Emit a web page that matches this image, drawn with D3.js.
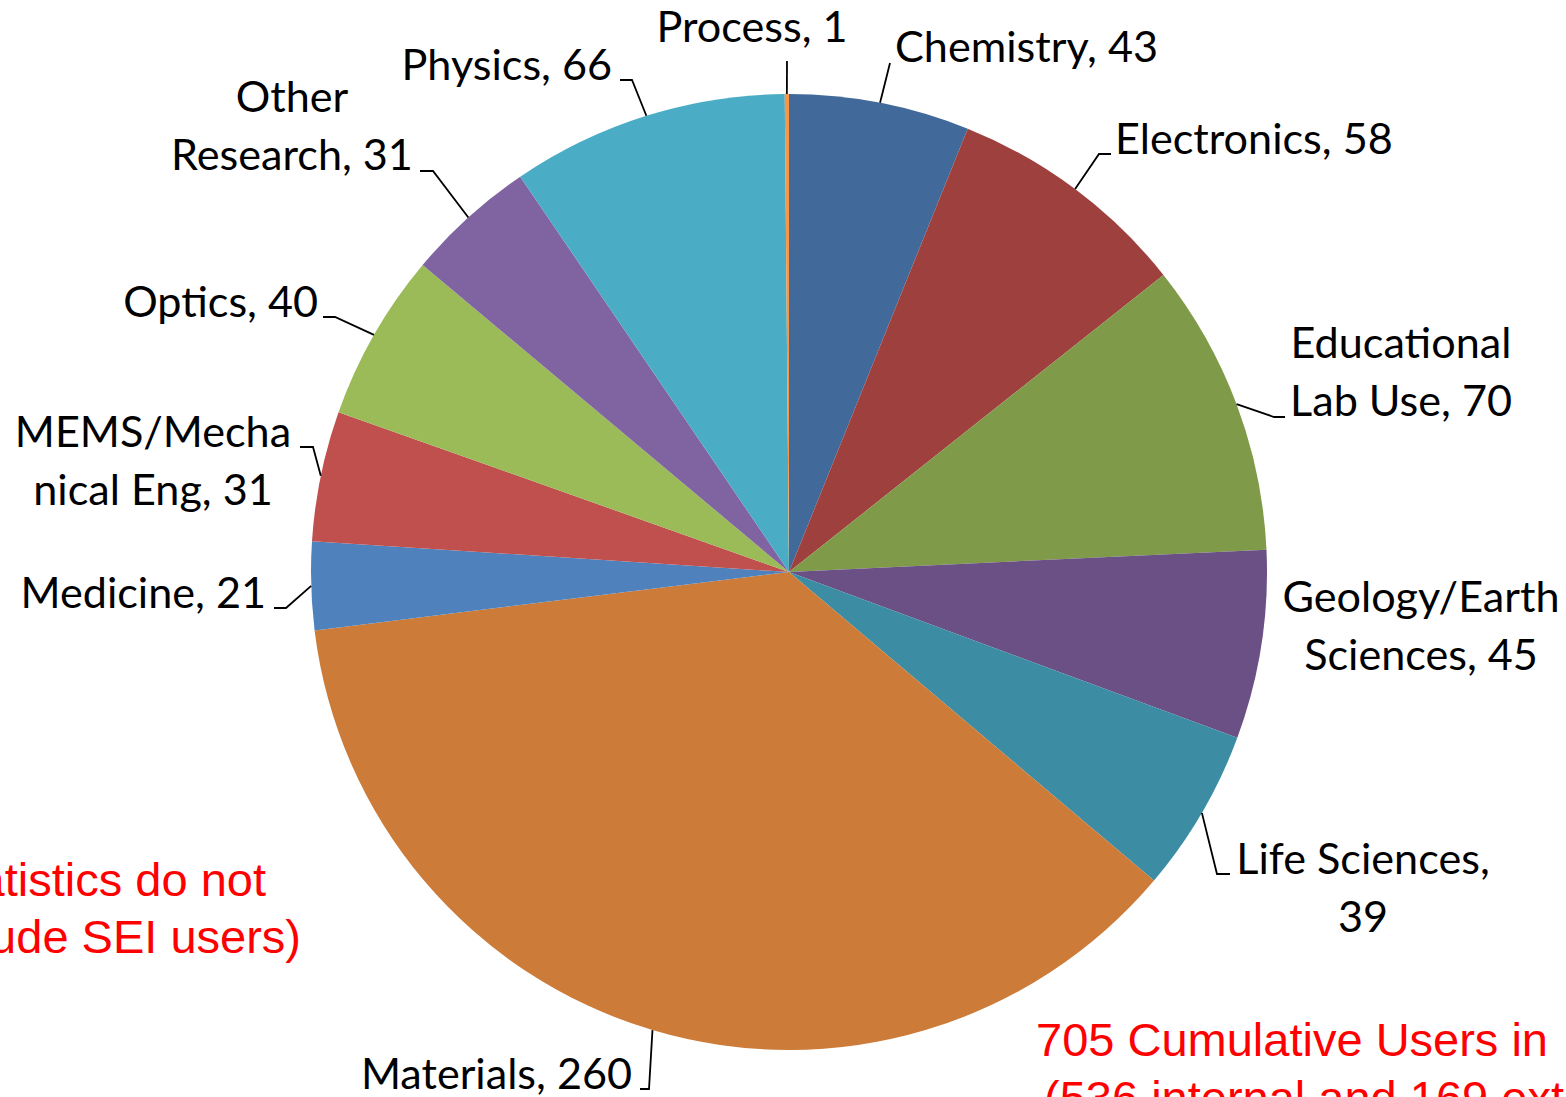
<!DOCTYPE html>
<html>
<head>
<meta charset="utf-8">
<script src="https://cdn.jsdelivr.net/npm/d3@7"></script>
<style>
  html, body { margin: 0; padding: 0; background: #fff; overflow: hidden; }
  .lbl { font-family: Lato, "Open Sans", sans-serif; fill: #000; }
  .note { font-family: "Liberation Sans", Arial, sans-serif; fill: #ff0000; }
</style>
</head>
<body>
<svg id="chart" width="1566" height="1097"></svg>
<script>
// data (alphabetical, as the sheet had it)
var categories = ["Chemistry", "Electronics", "Educational Lab Use", "Geology/Earth Sciences",
  "Life Sciences", "Materials", "Medicine", "MEMS/Mechanical Eng", "Optics",
  "Other Research", "Physics", "Process"];
var users = [43, 58, 70, 45, 39, 260, 21, 31, 40, 31, 66, 1];
var colors = ["#416a9b", "#9e413e", "#7f9a48", "#6a5085", "#3c8da3", "#cc7b38",
  "#4f81bd", "#c0504d", "#9bbb59", "#8064a2", "#4bacc6", "#f79646"];
// label text as it wraps in the picture
var labelLines = [["Chemistry, 43"], ["Electronics, 58"], ["Educational", "Lab Use, 70"],
  ["Geology/Earth", "Sciences, 45"], ["Life Sciences,", "39"], ["Materials, 260"],
  ["Medicine, 21"], ["MEMS/Mecha", "nical Eng, 31"], ["Optics, 40"],
  ["Other", "Research, 31"], ["Physics, 66"], ["Process, 1"]];
var notes = [["(statistics do not", "include SEI users)"],
  ["705 Cumulative Users in", "(536 internal and 169 external)"]];

// label placement: text anchor point, anchor, leader bend and end
var labelPos = [
  { x: 895, y: 62, a: "start", bend: [890, 63], end: null },
  { x: 1115, y: 154, a: "start", bend: [1099, 154], end: [1111, 154] },
  { x: 1401, y: 358, a: "middle", bend: [1274, 417], end: [1285, 417] },
  { x: 1421, y: 612, a: "middle", bend: null, end: null },
  { x: 1363, y: 874, a: "middle", bend: [1217, 874], end: [1230, 874] },
  { x: 632, y: 1089, a: "end", bend: [649, 1089], end: [640, 1089] },
  { x: 266, y: 608, a: "end", bend: [286, 608], end: [274, 608] },
  { x: 153, y: 447, a: "middle", bend: [313, 447], end: [300, 447] },
  { x: 318, y: 317, a: "end", bend: [335, 317], end: [323, 317] },
  { x: 292, y: 112, a: "middle", bend: [433, 171], end: [420, 171] },
  { x: 612, y: 80, a: "end", bend: [632, 80], end: [620, 80] },
  { x: 752, y: 42, a: "middle", bend: [787, 61], end: null }
];

var cx = 789, cy = 572, radius = 478, lineGap = 58;

var svg = d3.select("#chart");

// fit the label font so that a known label has the width it has in the picture
var probe = svg.append("text").attr("class", "lbl").attr("font-size", 100).text("Chemistry, 43");
var fontSize = 100 * 263 / probe.node().getComputedTextLength();
probe.remove();

var pie = d3.pie().sort(null).value(function (d) { return d; })
  .startAngle(0).endAngle(2 * Math.PI);
var arcs = pie(users);
var arc = d3.arc().innerRadius(0).outerRadius(radius);

var g = svg.append("g").attr("transform", "translate(" + cx + "," + cy + ")");
g.selectAll("path.slice").data(arcs).enter().append("path")
  .attr("class", "slice")
  .attr("d", arc)
  .attr("fill", function (d, i) { return colors[i]; });

// leader lines start on the rim at the slice's middle angle
var leaders = svg.append("g").attr("fill", "none").attr("stroke", "#000").attr("stroke-width", 1.8);
arcs.forEach(function (d, i) {
  var p = labelPos[i];
  if (!p.bend) return;
  var mid = (d.startAngle + d.endAngle) / 2;
  var pts = [[cx + radius * Math.sin(mid), cy - radius * Math.cos(mid)], p.bend];
  if (p.end) pts.push(p.end);
  leaders.append("path").attr("d", d3.line()(pts));
});

var labels = svg.append("g");
labelLines.forEach(function (lines, i) {
  var p = labelPos[i];
  var t = labels.append("text").attr("class", "lbl")
    .attr("font-size", fontSize)
    .attr("text-anchor", p.a);
  lines.forEach(function (s, j) {
    t.append("tspan").attr("x", p.x).attr("y", p.y + j * lineGap).text(s);
  });
});

// red notes, each line placed where it sits in the picture
var notePos = [
  { a: "end", lines: [[266, 896], [301, 953]] },
  { a: "start", lines: [[1036, 1056], [1044, 1114]] }
];
notes.forEach(function (lines, i) {
  var p = notePos[i];
  var t = svg.append("text").attr("class", "note").attr("font-size", 47).attr("text-anchor", p.a);
  lines.forEach(function (s, j) {
    t.append("tspan").attr("x", p.lines[j][0]).attr("y", p.lines[j][1]).text(s);
  });
});
</script>
</body>
</html>
